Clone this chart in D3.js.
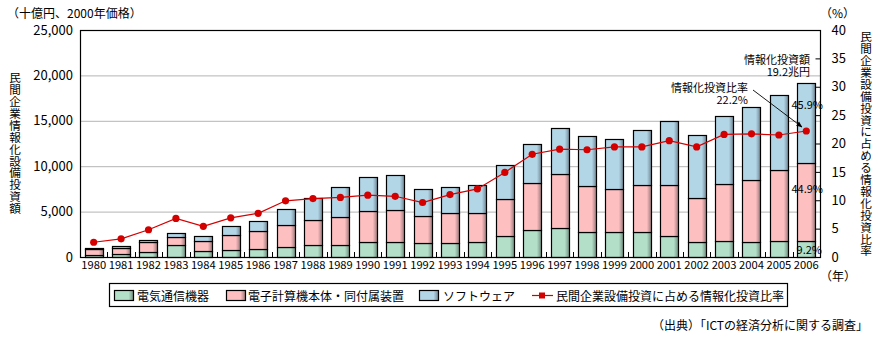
<!DOCTYPE html>
<html><head><meta charset="utf-8">
<script src="https://cdn.jsdelivr.net/npm/d3@7"></script>
<style>
html,body{margin:0;padding:0;background:#fff;}
svg{display:block;font-family:"Noto Sans CJK JP","Noto Sans",sans-serif;}
</style></head>
<body><svg id="c" width="882" height="339"></svg>
<script>
const years = ["1980","1981","1982","1983","1984","1985","1986","1987","1988","1989","1990","1991","1992","1993","1994","1995","1996","1997","1998","1999","2000","2001","2002","2003","2004","2005","2006"];
const telecom = [183,294,514,1285,624,734,844,1080,1284,1284,1615,1615,1505,1505,1615,2275,2936,3156,2716,2716,2716,2275,1615,1725,1615,1725,1766];
const computers = [661,660,1101,954,1101,1652,1982,2407,2753,3083,3413,3523,2972,3303,3193,4074,5175,5946,5064,4734,5174,5615,4844,6275,6826,7817,8621];
const software = [110,220,257,367,550,990,1138,1761,2422,3303,3743,3854,2973,2862,3082,3744,4294,5064,5520,5505,6093,7047,6937,7487,8037,8258,8813];
const ratio = [2.6,3.2,4.8,6.8,5.4,6.9,7.7,9.9,10.3,10.5,10.9,10.7,9.6,11.0,12.0,14.9,18.1,19.0,18.9,19.4,19.4,20.5,19.4,21.6,21.7,21.5,22.2];
const leftTicks = [0,5000,10000,15000,20000,25000];
const rightTicks = [0,5,10,15,20,25,30,35,40];
const seriesNames = ["電気通信機器","電子計算機本体・同付属装置","ソフトウェア"];
const lineName = "民間企業設備投資に占める情報化投資比率";
const colors = ["#b3dfc9","#fdbfc0","#b3d6e7"];
const darks = ["#6f8a7c","#9a7677","#6f8490"];

const svg = d3.select("#c");
const L=80, R=820, T=30, B=257;
const x = d3.scaleBand().domain(years).range([L,R]).paddingInner(0.34).paddingOuter(0.17);
const y = d3.scaleLinear().domain([0,25000]).range([B,T]);
const y2 = d3.scaleLinear().domain([0,40]).range([B,T]);

const defs = svg.append("defs");
colors.forEach((c,i)=>{
  const g = defs.append("linearGradient").attr("id","g"+i).attr("x1",0).attr("x2",1).attr("y1",0).attr("y2",0);
  g.append("stop").attr("offset",0).attr("stop-color",c);
  g.append("stop").attr("offset",0.74).attr("stop-color",c);
  g.append("stop").attr("offset",1).attr("stop-color",darks[i]);
});
const m = defs.append("marker").attr("id","arr").attr("viewBox","0 0 10 10").attr("refX",9).attr("refY",5)
  .attr("markerWidth",7).attr("markerHeight",7).attr("orient","auto");
m.append("path").attr("d","M0,1L10,5L0,9Z").attr("fill","#000");

// gridlines
svg.append("g").selectAll("line").data(leftTicks.filter(d=>d>0&&d<25000)).join("line")
  .attr("x1",L).attr("x2",R).attr("y1",d=>y(d)+0.5).attr("y2",d=>y(d)+0.5)
  .attr("stroke","#b4b4b4").attr("stroke-width",1);

// stacked bars
const table = years.map((yr,i)=>({year:yr, s0:telecom[i], s1:computers[i], s2:software[i]}));
const stack = d3.stack().keys(["s0","s1","s2"])(table);
svg.append("g").selectAll("g").data(stack).join("g")
  .attr("fill",(d,i)=>`url(#g${i})`)
  .selectAll("rect").data(d=>d).join("rect")
  .attr("x",d=>Math.round(x(d.data.year))+0.5)
  .attr("width",Math.round(x.bandwidth()))
  .attr("y",d=>Math.round(y(d[1]))+0.5)
  .attr("height",d=>Math.round(y(d[0]))-Math.round(y(d[1])))
  .attr("stroke","#000").attr("stroke-width",1.2);

// frame
svg.append("rect").attr("x",L+0.5).attr("y",T+0.5).attr("width",R-L).attr("height",B-T)
  .attr("fill","none").attr("stroke","#000").attr("stroke-width",1.2);

// bottom category boundary ticks
const bounds = years.slice(1).map(yr=>x(yr)-x.step()*x.paddingInner()/2);
svg.append("g").selectAll("line").data(bounds).join("line")
  .attr("x1",d=>Math.round(d)+0.5).attr("x2",d=>Math.round(d)+0.5).attr("y1",B).attr("y2",B-5)
  .attr("stroke","#000");

// left axis labels
const yAxis = d3.axisLeft(y).tickValues(leftTicks).tickSize(0).tickPadding(7).tickFormat(d3.format(","));
const ga = svg.append("g").attr("transform",`translate(${L},0)`).call(yAxis);
ga.select(".domain").remove();
ga.selectAll("text").attr("font-size","13px").attr("font-family",'"Noto Sans CJK JP",sans-serif').attr("fill","#000");

// right axis
const y2Axis = d3.axisRight(y2).tickValues(rightTicks).tickSize(-5).tickPadding(11);
const gb = svg.append("g").attr("transform",`translate(${R+0.5},0)`).call(y2Axis);
gb.select(".domain").remove();
gb.selectAll("line").attr("stroke","#000");
gb.selectAll("text").attr("font-size","13px").attr("font-family",'"Noto Sans CJK JP",sans-serif').attr("fill","#000");

// x axis labels
const xAxis = d3.axisBottom(x).tickSize(0).tickPadding(4);
const gx = svg.append("g").attr("transform",`translate(0,${B})`).call(xAxis);
gx.select(".domain").remove();
gx.selectAll("text").attr("font-size","11.2px").attr("font-family",'"Noto Sans CJK JP",sans-serif').attr("fill","#000");

// line
const cx = yr => x(yr)+x.bandwidth()/2;
svg.append("path").datum(ratio).attr("fill","none").attr("stroke","#d40000").attr("stroke-width",1.2)
  .attr("d",d3.line().x((d,i)=>cx(years[i])).y(d=>y2(d)));
svg.append("g").selectAll("circle").data(ratio).join("circle")
  .attr("cx",(d,i)=>cx(years[i])).attr("cy",d=>y2(d)).attr("r",3.6).attr("fill","#d40000");

// texts
const txt = (s,xx,yy,opt={})=>svg.append("text").attr("x",xx).attr("y",yy).text(s)
  .attr("font-size",opt.size||"12px").attr("text-anchor",opt.anchor||"start")
  .attr("dominant-baseline","central").attr("fill","#000");
txt("（十億円、2000年価格）",7,12,{size:"12px"});
txt("（%）",820,12,{size:"12px"});
txt("（年）",820,275,{size:"12px"});

const vert = (s,xx,y0,size,ls)=>svg.append("text").attr("x",xx).attr("y",y0).text(s)
  .attr("font-size",size).style("writing-mode","vertical-rl").style("letter-spacing",ls)
  .attr("fill","#000");
vert("民間企業情報化設備投資額",15,72,"11.6px","0.3px");
vert("民間企業設備投資に占める情報化投資比率",866,31,"11.6px","0.3px");

// annotations (two-line labels)
const txt2 = (a,b,xx,yy)=>{
  const t = svg.append("text").attr("font-size","11px").attr("text-anchor","end").attr("fill","#000");
  t.append("tspan").attr("x",xx).attr("y",yy).text(a);
  t.append("tspan").attr("x",xx).attr("dy",12).text(b);
};
txt2("情報化投資額","19.2兆円",810,64);
txt2("情報化投資比率","22.2%",748,92);
txt("45.9%",823,104,{size:"11px",anchor:"end"});
txt("44.9%",823,188,{size:"11px",anchor:"end"});
txt("9.2%",822,249,{size:"11px",anchor:"end"});
svg.append("line").attr("x1",753).attr("y1",90).attr("x2",802).attr("y2",127)
  .attr("stroke","#000").attr("stroke-width",0.9).attr("marker-end","url(#arr)");

// legend
svg.append("rect").attr("x",109.5).attr("y",283.5).attr("width",678).attr("height",23)
  .attr("fill","#fff").attr("stroke","#000").attr("stroke-width",1.2);
const legX = [114,226,419];
const legT = [137,248,443];
seriesNames.forEach((n,i)=>{
  svg.append("rect").attr("x",legX[i]+0.5).attr("y",290.5).attr("width",19).attr("height",10)
    .attr("fill",`url(#g${i})`).attr("stroke","#000").attr("stroke-width",1.2);
  txt(n,legT[i],295.5,{size:"12px"});
});
svg.append("line").attr("x1",532).attr("x2",553).attr("y1",295.5).attr("y2",295.5).attr("stroke","#d40000").attr("stroke-width",1.2);
svg.append("rect").attr("x",539).attr("y",292.5).attr("width",6).attr("height",6).attr("fill","#d40000");
txt(lineName,556,295.5,{size:"12px"});

txt("（出典）「ICTの経済分析に関する調査」",868,324,{size:"12px",anchor:"end"});
</script></body></html>
